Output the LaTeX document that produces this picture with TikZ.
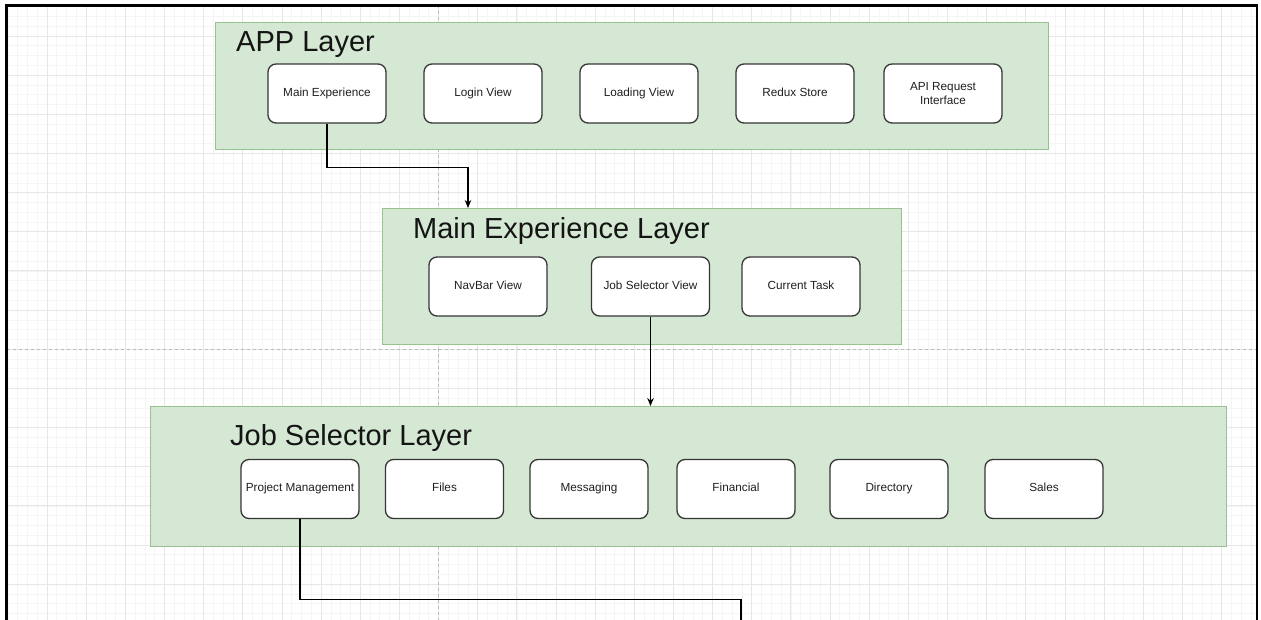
\documentclass[tikz,border=0pt]{standalone}
\usepackage{fontspec}
\setmainfont{Liberation Sans}
\usetikzlibrary{arrows.meta,calc}

\definecolor{layerfill}{HTML}{D5E8D4}
\definecolor{layerline}{HTML}{97C28F}
\definecolor{boxline}{HTML}{363636}
\definecolor{gridminor}{HTML}{F5F5F5}
\definecolor{gridmajor}{HTML}{E7E7E7}
\definecolor{pagebreak}{HTML}{BBBBBB}

\begin{document}
\begin{tikzpicture}[x=1pt,y=-1pt,
  layer/.style={draw=layerline, fill=layerfill, line width=1.1pt, inner sep=0pt, anchor=north west},
  viewbox/.style={draw=boxline, fill=white, line width=1.3pt, rounded corners=8pt,
    minimum width=118pt, minimum height=59pt, inner sep=0pt,
    text height=8.4pt, text depth=2.6pt,
    font=\fontsize{11.75}{13.3}\selectfont, text=black!88, align=center},
  twoline/.style={text height={}, text depth={}},
  layertitle/.style={anchor=base west, inner sep=0pt, font=\fontsize{29}{34}\selectfont, text=black!92},
  link/.style={draw=black, line width=1.1pt},
  arrow/.style={link, -{Stealth[length=8pt,width=6.5pt]}},
]
\useasboundingbox (0,0) rectangle (1261,620);

% canvas grid
\begin{scope}
  \clip (6.5,5.5) rectangle (1257,620);
  \foreach \k in {0,...,66} {
    \pgfmathsetmacro\yy{-3.15+\k*9.7875}
    \draw[gridminor, line width=0.6pt] (0,\yy) -- (1261,\yy);
  }
  \foreach \k in {0,...,133} {
    \pgfmathsetmacro\xx{-31.3+\k*9.7875}
    \draw[gridminor, line width=0.6pt] (\xx,0) -- (\xx,620);
  }
  \foreach \k in {0,...,16} {
    \pgfmathsetmacro\yy{-3.15+\k*39.15}
    \draw[gridmajor, line width=0.8pt] (0,\yy) -- (1261,\yy);
  }
  \foreach \k in {0,...,33} {
    \pgfmathsetmacro\xx{-31.3+\k*39.15}
    \draw[gridmajor, line width=0.8pt] (\xx,0) -- (\xx,620);
  }
  % page breaks
  \draw[pagebreak, line width=0.8pt, dash pattern=on 3pt off 3pt] (438.5,5.5) -- (438.5,620);
  \draw[pagebreak, line width=0.8pt, dash pattern=on 3pt off 3pt] (6.5,349.5) -- (1257,349.5);
\end{scope}

% outer frame
\draw[line width=2.6pt, line join=miter] (6.5,625) -- (6.5,5.5) -- (1257,5.5) -- (1257,625);

% APP layer
\node[layer, minimum width=833pt, minimum height=127pt] (applayer) at (215,22) {};
\node[layertitle] (apptitle) at (236,52) {APP Layer};
\node[viewbox] (mainexp) at (327,93.5) {Main Experience};
\node[viewbox] (login)   at (483,93.5) {Login View};
\node[viewbox] (loading) at (639,93.5) {Loading View};
\node[viewbox] (redux)   at (795,93.5) {Redux Store};
\node[viewbox, twoline] (api) at (943,93.5) {API Request\\Interface};

% Main experience layer
\node[layer, minimum width=519pt, minimum height=136pt] (melayer) at (382,208) {};
\node[layertitle] (metitle) at (413,239) {Main Experience Layer};
\node[viewbox] (navbar)  at (488,286.5)   {NavBar View};
\node[viewbox] (jsview)  at (650.5,286.5) {Job Selector View};
\node[viewbox] (curtask) at (801,286.5)   {Current Task};

% Job selector layer
\node[layer, minimum width=1076pt, minimum height=140pt] (jslayer) at (150,406) {};
\node[layertitle] (jstitle) at (230,445) {Job Selector Layer};
\node[viewbox] (pm)        at (300,489)   {Project Management};
\node[viewbox] (files)     at (444.5,489) {Files};
\node[viewbox] (messaging) at (589,489)   {Messaging};
\node[viewbox] (financial) at (736,489)   {Financial};
\node[viewbox] (directory) at (889,489)   {Directory};
\node[viewbox] (sales)     at (1044,489)  {Sales};

% connectors
\draw[arrow] (mainexp.south) -- ++(0,44) -| ([xshift=86pt]melayer.north west);
\draw[arrow] (jsview.south) -- (jsview.south |- jslayer.north);
\coordinate (pmnext) at (741,630);
\draw[link] (pm.south) -- ++(0,80) -| (pmnext);
\end{tikzpicture}
\end{document}
